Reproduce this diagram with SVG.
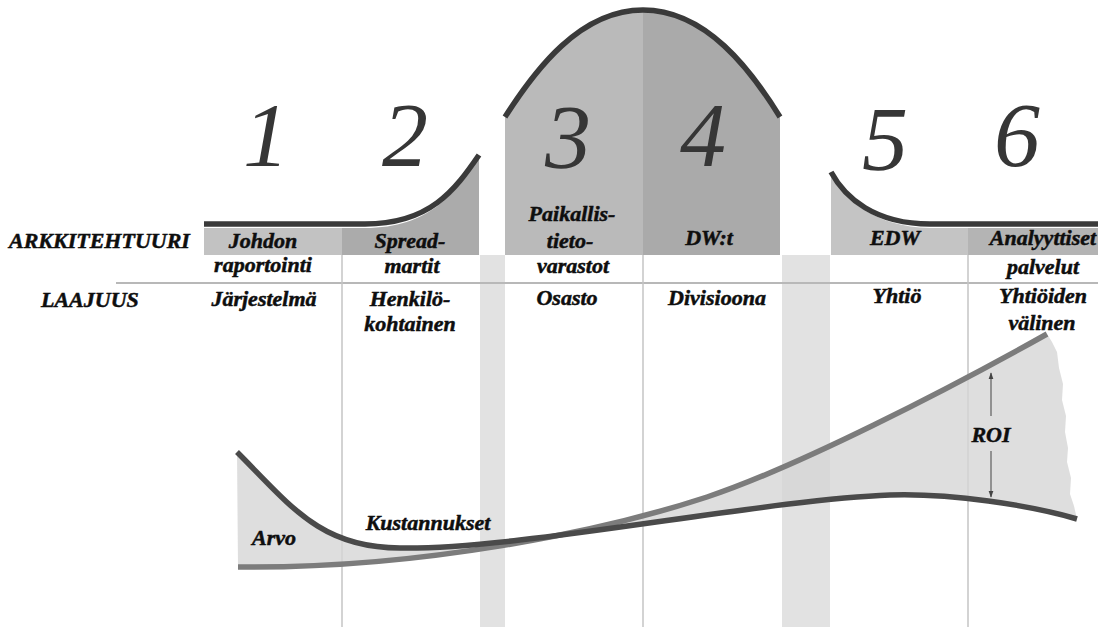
<svg xmlns="http://www.w3.org/2000/svg" width="1098" height="627" viewBox="0 0 1098 627">
  <defs>
    <style>
      text.lbl { font-family: 'Liberation Serif', 'DejaVu Serif', serif; font-weight: 700; font-style: italic; font-size: 22px; fill: #0e0e0e; stroke: #0e0e0e; stroke-width: 0.5; text-anchor: middle; }
      text.num { font-family: 'Liberation Serif', 'DejaVu Serif', serif; font-weight: 400; font-style: italic; font-size: 92px; fill: #363636; text-anchor: middle; }
      .rule { stroke: #c4c4c4; stroke-width: 1.5; fill: none; }
      .band { fill: #e2e2e2; }
      .edge { stroke: #3a3a3a; stroke-width: 5.5; fill: none; stroke-linecap: butt; }
      .value { stroke: #4a4a4a; stroke-width: 5.5; fill: none; }
      .cost { stroke: #7c7c7c; stroke-width: 5.5; fill: none; }
    </style>
    <marker id="tip" viewBox="0 0 10 10" refX="9" refY="5" markerWidth="7" markerHeight="7" orient="auto-start-reverse">
      <path d="M0,1.5 L10,5 L0,8.5 Z" fill="#444"/>
    </marker>
  </defs>

  <rect width="1098" height="627" fill="#fff"/>

  <!-- gaps between the stages -->
  <g id="bands">
    <rect class="band" x="480" y="255" width="25" height="372"/>
    <rect class="band" x="782" y="255" width="48" height="372"/>
  </g>

  <!-- grid rules -->
  <g id="grid">
    <line class="rule" x1="116" y1="283" x2="1098" y2="283" style="stroke-width:2;stroke:#b8b8b8"/>
    <line class="rule" x1="342" y1="255" x2="342" y2="627"/>
    <line class="rule" x1="643" y1="255" x2="643" y2="627"/>
    <line class="rule" x1="968" y1="255" x2="968" y2="627"/>
  </g>

  <!-- stage 1 -->
  <g id="stage1">
    <rect x="204" y="228" width="138" height="27" fill="#c2c2c2"/>
    <text class="num" x="266" y="166">1</text>
    <text class="lbl" x="263" y="248">Johdon</text>
    <text class="lbl" x="263" y="272">raportointi</text>
    <text class="lbl" x="264" y="306">Järjestelmä</text>
  </g>

  <!-- stage 2 -->
  <g id="stage2">
    <path d="M342,228 L365,228 C430,228 455,193 479,158 L479,255 L342,255 Z" fill="#ababab"/>
    <text class="num" x="405" y="166">2</text>
    <text class="lbl" x="410" y="248">Spread-</text>
    <text class="lbl" x="412" y="273">martit</text>
    <text class="lbl" x="410" y="306">Henkilö-</text>
    <text class="lbl" x="410" y="331">kohtainen</text>
  </g>

  <!-- stage 3 -->
  <g id="stage3">
    <path d="M505,117 C535,70 580,10 643,10 L643,255 L505,255 Z" fill="#bababa"/>
    <text class="num" x="568" y="168">3</text>
    <text class="lbl" x="572" y="221">Paikallis-</text>
    <text class="lbl" x="570" y="248">tieto-</text>
    <text class="lbl" x="573" y="273">varastot</text>
    <text class="lbl" x="567" y="305">Osasto</text>
  </g>

  <!-- stage 4 -->
  <g id="stage4">
    <path d="M643,10 C706,10 751,70 780,117 L780,255 L643,255 Z" fill="#aaaaaa"/>
    <text class="num" x="703" y="166">4</text>
    <text class="lbl" x="709" y="245">DW:t</text>
    <text class="lbl" x="717" y="305">Divisioona</text>
  </g>

  <!-- stage 5 -->
  <g id="stage5">
    <path d="M831,174 C845,200 875,227 930,228 L968,228 L968,255 L831,255 Z" fill="#c4c4c4"/>
    <text class="num" x="885" y="170">5</text>
    <text class="lbl" x="895" y="245">EDW</text>
    <text class="lbl" x="897" y="303">Yhtiö</text>
  </g>

  <!-- stage 6 -->
  <g id="stage6">
    <rect x="968" y="228" width="130" height="27" fill="#b4b4b4"/>
    <text class="num" x="1017" y="166">6</text>
    <text class="lbl" x="1043" y="245">Analyyttiset</text>
    <text class="lbl" x="1043" y="274">palvelut</text>
    <text class="lbl" x="1043" y="303">Yhtiöiden</text>
    <text class="lbl" x="1042" y="330">välinen</text>
  </g>

  <!-- outline of the architecture profile -->
  <g id="profile">
    <path class="edge" d="M204,224 L365,224 C430,224 455,190 479,155"/>
    <path class="edge" d="M505,117 C535,70 580,10 643,10 C706,10 751,70 780,117"/>
    <path class="edge" d="M831,172 C845,198 875,224 930,224 L1098,224"/>
  </g>

  <!-- row headings -->
  <g id="headings">
    <text class="lbl" x="9" y="248" style="text-anchor:start">ARKKITEHTUURI</text>
    <text class="lbl" x="41" y="307" style="text-anchor:start">LAAJUUS</text>
  </g>

  <!-- value / cost curves -->
  <g id="curves">
    <path d="M237,452 L238,567 C420,569 600,532 707,497 C797,467 947,390 1047,334 L1052,342 L1057,352 L1059,368 L1063,384 L1062,400 L1066,416 L1065,432 L1068,448 L1067,462 L1071,478 L1070,494 L1074,506 L1077,519 C1030,505 950,493 890,495 C760,500 520,550 400,548 C320,548 290,505 237,452 Z" fill="#d6d6d6" fill-opacity="0.8"/>
    <path class="cost" d="M238,567 C420,569 600,532 707,497 C797,467 947,390 1047,334"/>
    <path class="value" d="M237,452 C290,505 320,548 400,548 C520,550 760,500 890,495 C950,493 1030,505 1077,519"/>
    <text class="lbl" x="274" y="545">Arvo</text>
    <text class="lbl" x="428" y="530">Kustannukset</text>
  </g>

  <!-- ROI span -->
  <g id="roi">
    <line x1="991" y1="416" x2="991" y2="373" stroke="#444" stroke-width="1" marker-end="url(#tip)"/>
    <line x1="991" y1="451" x2="991" y2="497" stroke="#444" stroke-width="1" marker-end="url(#tip)"/>
    <text class="lbl" x="991" y="442">ROI</text>
  </g>
</svg>
